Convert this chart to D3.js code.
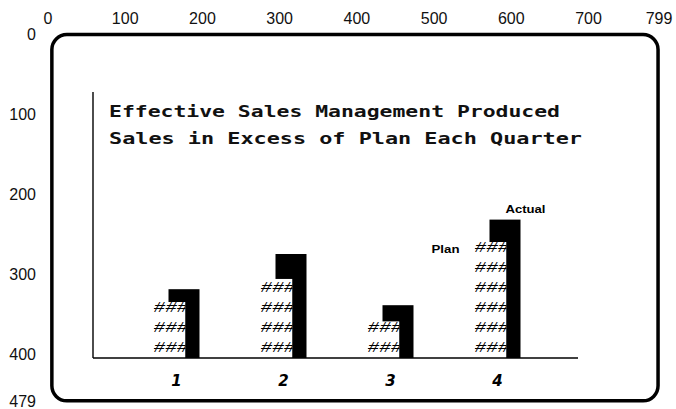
<!DOCTYPE html>
<html>
<head>
<meta charset="utf-8">
<script src="https://cdn.jsdelivr.net/npm/d3@7"></script>
<style>
  html, body { margin: 0; padding: 0; background: #fff; }
  svg { display: block; }
</style>
</head>
<body>
<svg id="chart" width="676" height="409"></svg>
<script>
// ---- data ----
const quarters = ["1", "2", "3", "4"];
const planValues = [70, 99, 46, 145];
const actualValues = [86, 130, 66, 173];
const frameXTicks = [0, 100, 200, 300, 400, 500, 600, 700, 799];
const frameYTicks = [0, 100, 200, 300, 400, 479];
const titleLines = ["Effective Sales Management Produced", "Sales in Excess of Plan Each Quarter"];
const seriesNames = ["Plan", "Actual"];

const svg = d3.select("#chart");

// ---- frame coordinate system (0..799 x 0..479) ----
const fx = d3.scaleLinear().domain([0, 799]).range([48, 665]);
const fy = d3.scaleLinear().domain([0, 479]).range([33, 416]);

svg.append("g").selectAll("text")
  .data(frameXTicks).join("text")
  .attr("x", d => Math.min(fx(d), 659))
  .attr("y", 24)
  .attr("text-anchor", "middle")
  .attr("font-family", "Liberation Sans, Arial, sans-serif")
  .attr("font-size", 16)
  .attr("fill", "#111")
  .text(d => d);

svg.append("g").selectAll("text")
  .data(frameYTicks).join("text")
  .attr("x", 36)
  .attr("y", d => Math.min(fy(d) + 7, 407))
  .attr("text-anchor", "end")
  .attr("font-family", "Liberation Sans, Arial, sans-serif")
  .attr("font-size", 16)
  .attr("fill", "#111")
  .text(d => d);

// rounded frame
svg.append("rect")
  .attr("x", fx(5)).attr("y", fy(2))
  .attr("width", fx(790) - fx(5))
  .attr("height", fy(460) - fy(2))
  .attr("rx", 15).attr("ry", 15)
  .attr("fill", "none")
  .attr("stroke", "#000")
  .attr("stroke-width", 3.5);

// ---- chart ----
const baseY = 358, topY = 92, axisX = 93, axisEnd = 578;
const vy = d3.scaleLinear().domain([0, 332.5]).range([baseY, topY]);
const xs = d3.scalePoint().domain(quarters).range([176.5, 497.5]);

// title
svg.append("g").selectAll("text")
  .data(titleLines).join("text")
  .attr("x", 109)
  .attr("y", (d, i) => 117 + i * 27)
  .attr("font-family", "DejaVu Sans Mono, monospace")
  .attr("font-weight", "bold")
  .attr("font-size", 16)
  .attr("fill", "#111")
  .attr("textLength", (d, i) => i === 0 ? 451 : 473)
  .attr("lengthAdjust", "spacingAndGlyphs")
  .text(d => d);

const data = quarters.map((q, i) => ({ q, plan: planValues[i], actual: actualValues[i] }));

// actual bars (behind)
svg.append("g").selectAll("rect")
  .data(data).join("rect")
  .attr("x", d => xs(d.q) - 8)
  .attr("y", d => vy(d.actual))
  .attr("width", 31)
  .attr("height", d => baseY - vy(d.actual))
  .attr("fill", "#000");

// plan bars (in front, hatched with ### rows)
const defs = svg.append("defs");
data.forEach((d, i) => {
  defs.append("clipPath").attr("id", "clipPlan" + i)
    .append("rect")
    .attr("x", xs(d.q) - 23)
    .attr("y", vy(d.plan))
    .attr("width", 32)
    .attr("height", baseY - vy(d.plan));
});

const planG = svg.append("g").selectAll("g")
  .data(data).join("g")
  .attr("clip-path", (d, i) => `url(#clipPlan${i})`);

planG.append("rect")
  .attr("x", d => xs(d.q) - 23)
  .attr("y", d => vy(d.plan))
  .attr("width", 32)
  .attr("height", d => baseY - vy(d.plan))
  .attr("fill", "#fff");

planG.each(function(d) {
  const h = baseY - vy(d.plan);
  const rows = d3.range(Math.round(h / 20));
  d3.select(this).selectAll("text")
    .data(rows).join("text")
    .attr("x", xs(d.q) - 23)
    .attr("y", r => baseY - 6 - r * 20)
    .attr("font-family", "Liberation Mono, DejaVu Sans Mono, monospace")
    .attr("font-style", "italic")
    .attr("font-size", 15)
    .attr("fill", "#000")
    .attr("textLength", 35)
    .attr("lengthAdjust", "spacingAndGlyphs")
    .text("###");
});

// axes lines
svg.append("line")
  .attr("x1", axisX).attr("x2", axisX)
  .attr("y1", topY).attr("y2", baseY)
  .attr("stroke", "#000").attr("stroke-width", 1.4);
svg.append("line")
  .attr("x1", axisX).attr("x2", axisEnd)
  .attr("y1", baseY).attr("y2", baseY)
  .attr("stroke", "#000").attr("stroke-width", 1.6);

// category labels
svg.append("g").selectAll("text")
  .data(quarters).join("text")
  .attr("x", d => xs(d))
  .attr("y", 386)
  .attr("text-anchor", "middle")
  .attr("font-family", "DejaVu Sans, sans-serif")
  .attr("font-weight", "bold")
  .attr("font-style", "italic")
  .attr("font-size", 15)
  .attr("fill", "#000")
  .text(d => d);

// series labels on the last quarter
const last = data[data.length - 1];
svg.append("text")
  .attr("x", xs(last.q) - 38)
  .attr("y", vy(last.plan) + 11)
  .attr("text-anchor", "end")
  .attr("font-family", "Liberation Sans, Arial, sans-serif")
  .attr("font-weight", "bold")
  .attr("font-size", 10.5)
  .attr("textLength", 28)
  .attr("lengthAdjust", "spacingAndGlyphs")
  .text(seriesNames[0]);
svg.append("text")
  .attr("x", xs(last.q) + 8)
  .attr("y", vy(last.actual) - 7)
  .attr("font-family", "Liberation Sans, Arial, sans-serif")
  .attr("font-weight", "bold")
  .attr("font-size", 10.5)
  .attr("textLength", 40)
  .attr("lengthAdjust", "spacingAndGlyphs")
  .text(seriesNames[1]);
</script>
</body>
</html>
